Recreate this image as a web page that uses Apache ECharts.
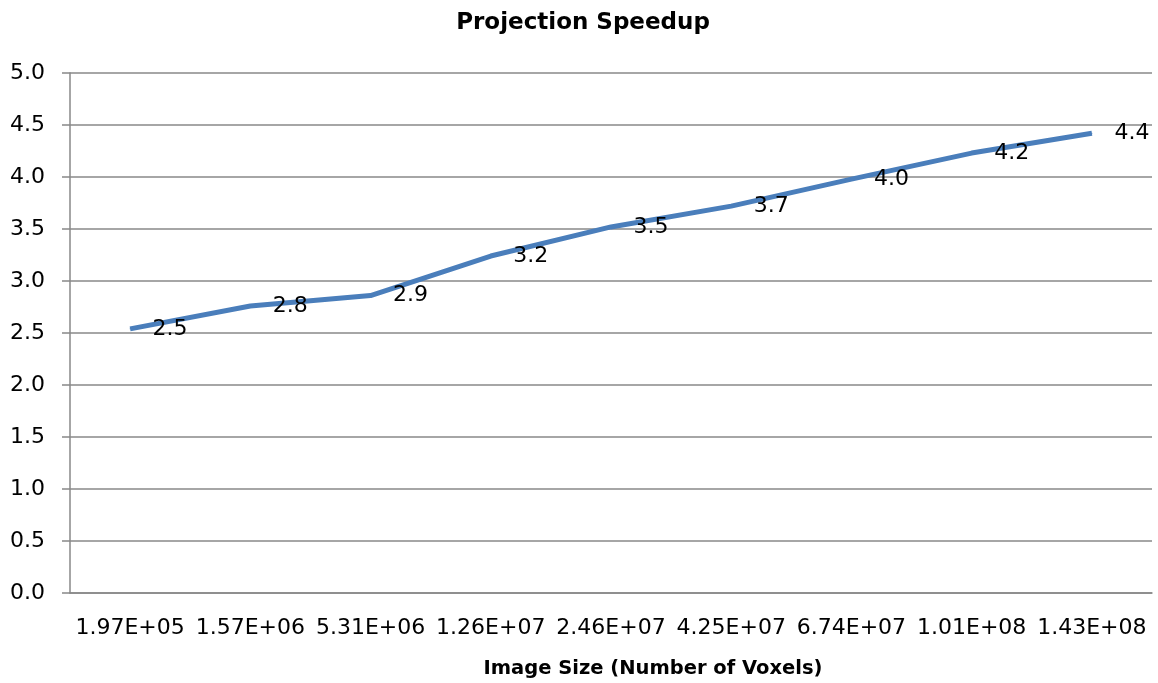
<!DOCTYPE html>
<html>
<head>
<meta charset="utf-8">
<title>Projection Speedup</title>
<script src="https://cdn.jsdelivr.net/npm/echarts@6/dist/echarts.min.js"></script>
<style>
  html, body { margin: 0; padding: 0; background: #ffffff; }
  #chart { width: 1158px; height: 683px; }
</style>
</head>
<body>
<div id="chart"></div>
<script>
// Image sizes (number of voxels) on the category axis
const imageSizes = ['1.97E+05', '1.57E+06', '5.31E+06', '1.26E+07', '2.46E+07',
                    '4.25E+07', '6.74E+07', '1.01E+08', '1.43E+08'];
// Projection speedup measured for each image size
const speedup = [2.54, 2.76, 2.86, 3.24, 3.52, 3.72, 3.98, 4.23, 4.42];
// Value axis range
const yMin = 0, yMax = 5, yStep = 0.5;

const FONT = 'DejaVu Sans';
const chart = echarts.init(document.getElementById('chart'), null, { renderer: 'canvas' });

chart.setOption({
  backgroundColor: '#ffffff',
  animation: false,
  grid: { left: 70, right: 6, top: 73, bottom: 90, containLabel: false },
  graphic: [
    {
      type: 'text', x: 583, y: 23,
      style: { text: 'Projection Speedup', fontFamily: FONT, fontSize: 23, fontWeight: 'bold',
               fill: '#000', align: 'center', verticalAlign: 'middle' }
    },
    {
      type: 'text', x: 653, y: 669,
      style: { text: 'Image Size (Number of Voxels)', fontFamily: FONT, fontSize: 19.5, fontWeight: 'bold',
               fill: '#000', align: 'center', verticalAlign: 'middle' }
    }
  ],
  xAxis: {
    type: 'category',
    data: imageSizes,
    boundaryGap: true,
    axisLine: { show: true, lineStyle: { color: '#888888', width: 1.5 } },
    axisTick: { show: false },
    axisLabel: { color: '#000', fontFamily: FONT, fontSize: 22, margin: 24, interval: 0 },
    splitLine: { show: false }
  },
  yAxis: {
    type: 'value',
    min: yMin, max: yMax, interval: yStep,
    axisLine: { show: true, lineStyle: { color: '#888888', width: 1.5 } },
    axisTick: { show: true, length: 8, lineStyle: { color: '#888888', width: 1.5 } },
    axisLabel: { color: '#000', fontFamily: FONT, fontSize: 22, margin: 25,
                 formatter: v => v.toFixed(1) },
    splitLine: { show: true, lineStyle: { color: '#888888', width: 1.5 } }
  },
  series: [{
    type: 'line',
    data: speedup,
    symbol: 'circle',
    symbolSize: 1,
    showSymbol: true,
    lineStyle: { color: '#4a7ebb', width: 5 },
    itemStyle: { color: '#4a7ebb' },
    label: {
      show: true, position: 'right', distance: 22,
      color: '#000', fontFamily: FONT, fontSize: 22,
      formatter: p => p.value.toFixed(1)
    }
  }]
});
</script>
</body>
</html>
